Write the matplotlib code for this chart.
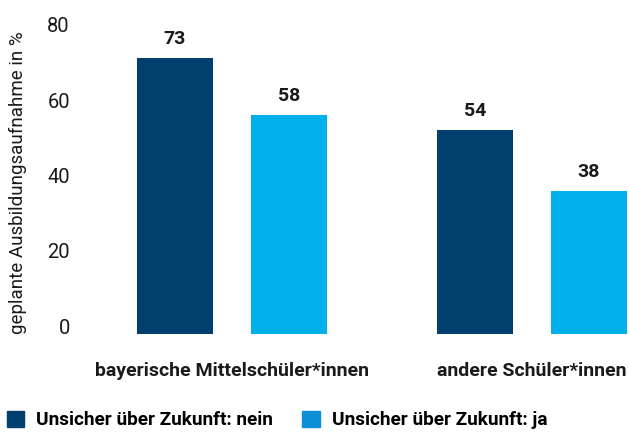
import matplotlib
matplotlib.use("Agg")
import matplotlib.pyplot as plt
from matplotlib.patches import Patch

plt.rcParams['font.family'] = ['Roboto', 'DejaVu Sans']

# data
groups = ['bayerische Mittelschüler*innen', 'andere Schüler*innen']
series = ['Unsicher über Zukunft: nein', 'Unsicher über Zukunft: ja']
nein = [73, 54]
ja = [58, 38]
yticks = [0, 20, 40, 60, 80]

dark = '#003f6e'
light = '#00b0eb'
legend_light = '#0a8fd6'
txt = '#1a1a1a'

fig = plt.figure(figsize=(6.3, 4.33), dpi=100)
ax = fig.add_axes([100/630, 99/433, 530/630, 302/433])

centers = [0, 3]
w = 0.76
off = 0.57
x_n = [c - off for c in centers]
x_j = [c + off for c in centers]
b1 = ax.bar(x_n, nein, width=w, color=dark)
b2 = ax.bar(x_j, ja, width=w, color=light)

for bars, vals in [(b1, nein), (b2, ja)]:
    for b, v in zip(bars, vals):
        ax.text(b.get_x() + b.get_width()/2, v + 3.7, str(v), ha='center', va='baseline',
                fontsize=14, fontweight='bold', color=txt)

ax.set_xlim(-1.32, 3.98)
ax.set_ylim(0, 80)

# y tick labels sit on the value line (baseline aligned), right edge at x=70px
ax.set_yticks(yticks)
ax.set_yticklabels([])
for t in yticks:
    ax.text(-30/530, t, str(t), transform=ax.get_yaxis_transform(), ha='right', va='baseline',
            fontsize=14.5, color=txt)

ax.set_xticks(centers)
ax.set_xticklabels(groups, fontsize=14, fontweight='bold', color=txt)
ax.tick_params(axis='both', length=0)
ax.tick_params(axis='x', pad=20)
for s in ax.spines.values():
    s.set_visible(False)

fig.text(18/630, 1 - 183/433, 'geplante Ausbildungsaufnahme in %', rotation=90,
         ha='center', va='center', fontsize=13.5, color=txt)

handles = [Patch(color=dark), Patch(color=legend_light)]
fig.legend(handles, series, loc='center left', bbox_to_anchor=(7/630, 1 - 420/433), ncol=2,
           frameon=False, prop={'size': 13.7, 'weight': 'bold'}, handlelength=0.9, handleheight=0.9,
           handletextpad=0.63, columnspacing=1.55, borderaxespad=0, borderpad=0)

fig.savefig('out.png', dpi=100)
